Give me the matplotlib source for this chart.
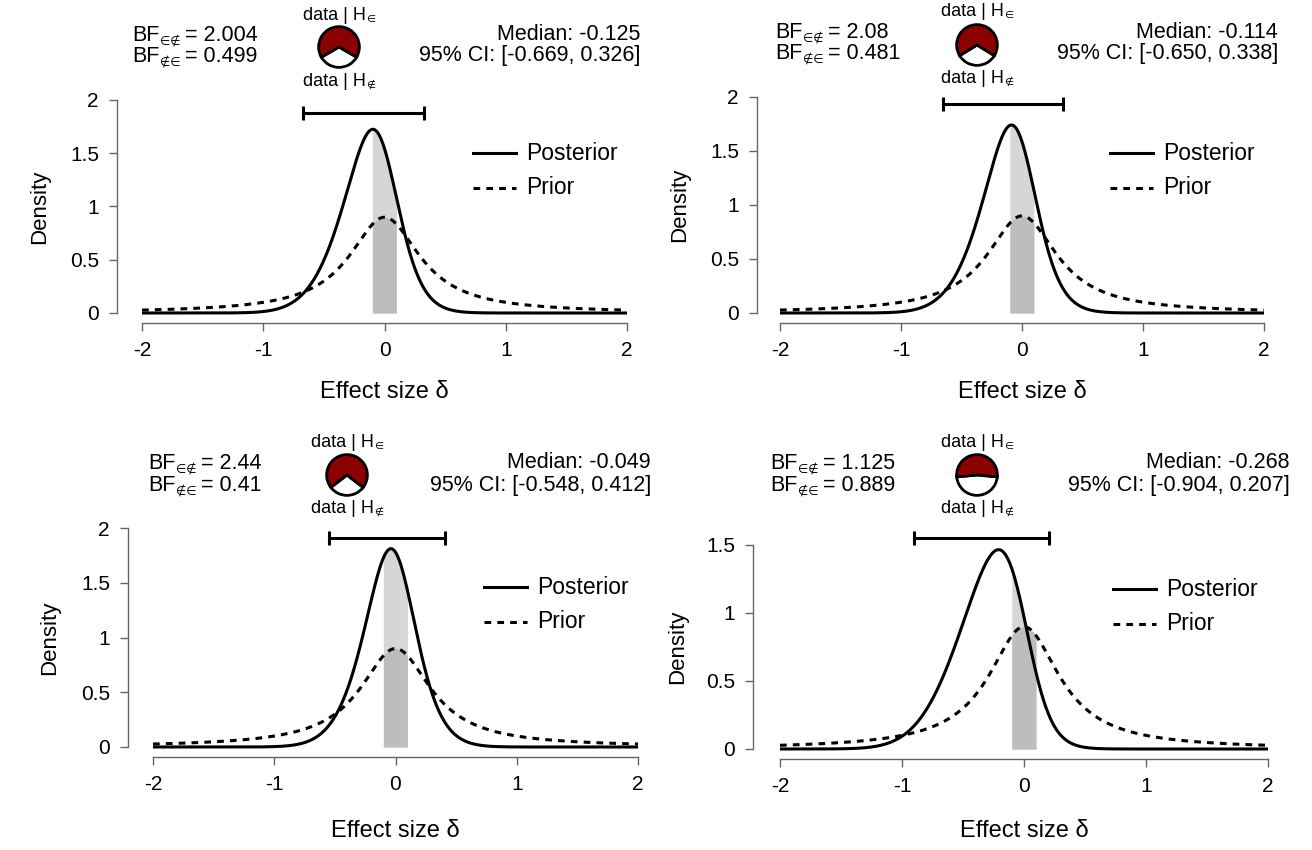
import numpy as np
import matplotlib
matplotlib.use("Agg")
import matplotlib.pyplot as plt
from matplotlib.patches import Wedge

plt.rcParams["font.family"] = ["Liberation Sans", "DejaVu Sans"]

# ---- results of the four Bayesian equivalence t-tests ----
bf_in_out = [2.004, 2.08, 2.44, 1.125]
bf_out_in = [0.499, 0.481, 0.41, 0.889]
bf_in_out_txt = ["2.004", "2.08", "2.44", "1.125"]
bf_out_in_txt = ["0.499", "0.481", "0.41", "0.889"]
post_median = [-0.125, -0.114, -0.049, -0.268]
ci_lower = [-0.669, -0.650, -0.548, -0.904]
ci_upper = [0.326, 0.338, 0.412, 0.207]
equiv_bounds = [-0.1, 0.1]
prior_scale = 0.354          # Cauchy prior width on delta

x_ticks = [-2, -1, 0, 1, 2]
y_ticks = [[0, 0.5, 1, 1.5, 2], [0, 0.5, 1, 1.5, 2], [0, 0.5, 1, 1.5, 2], [0, 0.5, 1, 1.5]]
y_ticklabels = [["0", "0.5", "1", "1.5", "2"]] * 3 + [["0", "0.5", "1", "1.5"]]

# ---- layout (figure pixels, y measured from the top) ----
W, H = 1312, 850
# x(-2), x(2), y(0), y(top), y-axis offset px
boxes = [(142, 627, 313, 100, 25), (780, 1264, 313, 97, 23),
         (153, 638, 747, 528, 25), (780, 1268, 749, 545, 27)]
bar_px = [113, 104, 538, 538]
ylab_x = [40, 680, 50, 678]
xlab_y = [392, 392, 831, 831]
# BF left x, BF y1, y2, pie cx, pie cy, label-above y, label-below y, median right x, y1, y2
heads = [(132, 35, 56, 339, 47, 15, 81, 640, 35, 56),
         (775, 32, 53, 977, 45, 11, 78, 1278, 33, 54),
         (148, 463, 485, 347, 475, 442, 508, 651, 463, 486),
         (770, 463, 485, 977, 475, 442, 508, 1290, 463, 486)]
pie_r = 22

def fx(px):
    return px / W

def fy(py):
    return 1 - py / H


def cauchy(x, r):
    return 1.0 / (np.pi * r * (1 + (x / r) ** 2))


grid = np.linspace(-4, 4, 4001)
prior_grid = cauchy(grid, prior_scale)


def quantiles(m, s):
    lik = np.exp(-0.5 * ((grid[None, :] - m[:, None]) / s) ** 2)
    cdf = np.cumsum(lik * prior_grid, axis=1)
    cdf /= cdf[:, -1:]
    return np.stack([grid[np.argmax(cdf >= p, axis=1)] for p in (0.025, 0.5, 0.975)], axis=1)


def fit_likelihood(med, lo, hi):
    """Normal likelihood (mean, sd) whose posterior under the Cauchy prior
    reproduces the reported median and 95% credible interval."""
    target = np.array([lo, med, hi])
    best = (np.inf, 0.0, 0.2)
    m_grid = np.arange(-1.2, 0.6, 0.01)
    for s in np.arange(0.08, 0.6, 0.005):
        err = ((quantiles(m_grid, s) - target) ** 2).sum(1)
        i = np.argmin(err)
        if err[i] < best[0]:
            best = (err[i], m_grid[i], s)
    m0, s0 = best[1], best[2]
    m_grid = np.arange(m0 - 0.012, m0 + 0.012, 0.001)
    for s in np.arange(s0 - 0.006, s0 + 0.006, 0.0005):
        err = ((quantiles(m_grid, s) - target) ** 2).sum(1)
        i = np.argmin(err)
        if err[i] < best[0]:
            best = (err[i], m_grid[i], s)
    return best[1], best[2]


def posterior(x, m, s):
    dens = np.exp(-0.5 * ((grid - m) / s) ** 2) * prior_grid
    dens /= dens.sum() * (grid[1] - grid[0])
    return np.interp(x, grid, dens)


fig = plt.figure(figsize=(W / 100, H / 100), dpi=100)
renderer = fig.canvas.get_renderer()


def text_runs(x, y, parts, ha="left"):
    """Place consecutive text pieces (text, size, drop_px, gap_px) on one line."""
    arts, widths = [], []
    for txt, size, drop, gap in parts:
        t = fig.text(0, 0, txt, fontsize=size, va="baseline", ha="left")
        arts.append(t)
        widths.append(t.get_window_extent(renderer).width)
    total = sum(widths) + sum(p[3] for p in parts)
    start = x if ha == "left" else (x - total / 2 if ha == "center" else x - total)
    cur = start
    for t, w, (txt, size, drop, gap) in zip(arts, widths, parts):
        cur += gap
        t.set_position((fx(cur), fy(y + drop)))
        cur += w


xs = np.linspace(-2, 2, 2001)
axis_col = "#666666"
light, dark = "#d6d6d6", "#bdbdbd"
big, tiny = 15.5, 8.5

for k in range(4):
    xl, xr, y0, yt, off = boxes[k]
    ytop = y_ticks[k][-1]
    ax = fig.add_axes([fx(xl), fy(y0), (xr - xl) / W, (y0 - yt) / H])
    ax.set_xlim(-2, 2)
    ax.set_ylim(0, ytop)

    m, s = fit_likelihood(post_median[k], ci_lower[k], ci_upper[k])
    post = posterior(xs, m, s)
    prior = cauchy(xs, prior_scale)

    inside = (xs >= equiv_bounds[0]) & (xs <= equiv_bounds[1])
    ax.fill_between(xs[inside], 0, np.maximum(post, prior)[inside], color=light, lw=0)
    ax.fill_between(xs[inside], 0, prior[inside], color=dark, lw=0)
    ax.plot(xs, prior, color="black", lw=2.2, ls=(0, (2.2, 2.0)), clip_on=False)
    ax.plot(xs, post, color="black", lw=2.2, clip_on=False, solid_capstyle="butt")

    # 95% credible interval bar
    ppu = (y0 - yt) / ytop
    yb = (y0 - bar_px[k]) / ppu
    ax.plot([ci_lower[k], ci_upper[k]], [yb, yb], color="black", lw=2.2,
            marker="|", ms=10, mew=2.2, clip_on=False)

    # axes in base-graphics style
    for sp in ("top", "right"):
        ax.spines[sp].set_visible(False)
    ax.spines["left"].set_position(("outward", off * 0.72))
    ax.spines["bottom"].set_position(("outward", 10 * 0.72))
    ax.spines["left"].set_bounds(0, ytop)
    ax.spines["bottom"].set_bounds(-2, 2)
    for sp in ("left", "bottom"):
        ax.spines[sp].set_color(axis_col)
        ax.spines[sp].set_linewidth(1.0)
    ax.set_xticks(x_ticks)
    ax.set_xticklabels([str(t) for t in x_ticks])
    ax.set_yticks(y_ticks[k])
    ax.set_yticklabels(y_ticklabels[k])
    ax.tick_params(axis="both", length=6, width=1.0, color=axis_col, labelsize=15)
    ax.tick_params(axis="x", pad=7)
    ax.tick_params(axis="y", pad=7)
    ax.patch.set_visible(False)

    # legend
    leg_x0, leg_x1 = xl + (xr - xl) * 0.682, xl + (xr - xl) * 0.771
    for dy, lab, ls in [(160, "Posterior", "-"), (125, "Prior", (0, (2.2, 2.0)))]:
        yy = fy(y0 - dy)
        fig.add_artist(plt.Line2D([fx(leg_x0), fx(leg_x1)], [yy, yy],
                                  color="black", lw=2.2, ls=ls))
        fig.text(fx(xl + (xr - xl) * 0.791), yy, lab, fontsize=16.5, va="center", ha="left")

    # axis titles
    fig.text(fx((xl + xr) / 2), fy(xlab_y[k]), "Effect size δ", fontsize=17,
             ha="center", va="center")
    fig.text(fx(ylab_x[k]), fy((y0 + yt) / 2), "Density", fontsize=16,
             rotation=90, ha="center", va="center")

    # header: Bayes factors, probability wheel, posterior summary
    bx, by1, by2, pcx, pcy, la, lb, mx, my1, my2 = heads[k]
    text_runs(bx, by1 + 6, [("BF", big, 0, 0), ("∈∉", tiny, 3, 1),
                            ("= " + bf_in_out_txt[k], big, 0, 4)])
    text_runs(bx, by2 + 6, [("BF", big, 0, 0), ("∉∈", tiny, 3, 1),
                            ("= " + bf_out_in_txt[k], big, 0, 4)])
    fig.text(fx(mx), fy(my1), "Median: %.3f" % post_median[k], fontsize=big,
             ha="right", va="center")
    fig.text(fx(mx), fy(my2), "95%% CI: [%.3f, %.3f]" % (ci_lower[k], ci_upper[k]),
             fontsize=big, ha="right", va="center")
    text_runs(pcx, la + 5, [("data | H", 13, 0, 0), ("∈", 7.5, 2, 0.5)], ha="center")
    text_runs(pcx, lb + 5, [("data | H", 13, 0, 0), ("∉", 7.5, 2, 0.5)], ha="center")

    pax = fig.add_axes([fx(pcx - pie_r), fy(pcy + pie_r), 2 * pie_r / W, 2 * pie_r / H])
    pax.set_xlim(-1.08, 1.08)
    pax.set_ylim(-1.08, 1.08)
    pax.axis("off")
    p_out = 1.0 / (1.0 + bf_in_out[k])
    half = p_out * 180
    pax.add_patch(Wedge((0, 0), 1, 270 - half, 270 + half, facecolor="white",
                        edgecolor="black", lw=2.0))
    pax.add_patch(Wedge((0, 0), 1, 270 + half, 270 - half + 360, facecolor="#8b0000",
                        edgecolor="black", lw=2.0))

fig.savefig("out.png", dpi=100)
